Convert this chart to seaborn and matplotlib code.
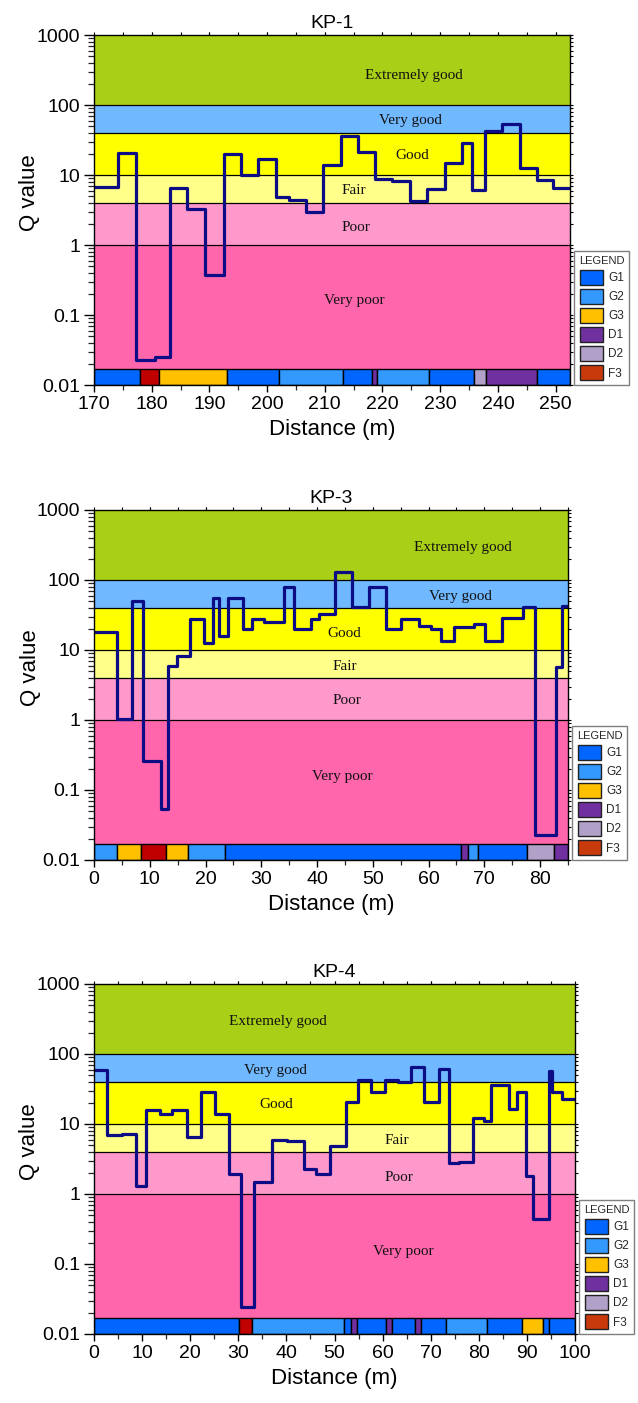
import matplotlib
matplotlib.use("Agg")
import matplotlib.pyplot as plt
from matplotlib.patches import Patch
from matplotlib.ticker import FixedLocator, NullFormatter
import seaborn as sns
import numpy as np

# ---- Q-value profiles (segment edges in m, Q value per segment) ----
kp1_edges = [170, 174.1, 177.2, 180.6, 183.2, 186.2, 189.3, 192.5, 195.5, 198.5,
             201.5, 203.8, 206.7, 209.7, 212.8, 215.7, 218.7, 221.7, 224.7, 227.7,
             230.8, 233.7, 235.6, 237.7, 240.8, 243.8, 246.7, 249.6, 252.5]
kp1_q = [6.8, 20.4, 0.023, 0.025, 6.6, 3.3, 0.37, 20, 9.9, 17,
         4.9, 4.4, 3.0, 13.9, 36, 21.5, 8.8, 8.1, 4.2, 6.3,
         14.7, 28.3, 6.2, 43, 53, 12.6, 8.5, 6.6]

kp3_edges = [0, 4.2, 6.9, 8.8, 12.1, 13.3, 14.9, 17.3, 19.7, 21.3,
             22.4, 24.0, 26.7, 28.4, 30.5, 34.0, 35.9, 38.9, 40.4, 43.2,
             46.2, 49.3, 52.3, 55.1, 58.3, 60.4, 62.3, 64.5, 68.2, 70.2,
             73.2, 77.0, 79.0, 82.9, 83.9, 85]
kp3_q = [18.3, 1.02, 50.7, 0.26, 0.053, 5.9, 8.2, 27.4, 12.7, 56,
         16, 54.7, 19.7, 27.4, 25.4, 78.5, 20, 27.7, 32.7, 129,
         41.6, 80, 19.7, 27.4, 22, 19.7, 13.4, 21.1, 23.3, 13.6,
         29, 40.7, 0.023, 5.8, 42.5]

kp4_edges = [0, 2.6, 5.8, 8.7, 10.8, 13.7, 16.2, 19.3, 22.2, 25.2,
             28.1, 30.6, 33.3, 37.1, 40.2, 43.6, 46.2, 49.0, 52.4, 54.9,
             57.5, 60.4, 63.1, 66.0, 68.7, 71.8, 73.9, 75.8, 78.7, 81.0,
             82.6, 86.2, 88.0, 89.8, 91.2, 94.5, 95.2, 97.2, 100]
kp4_q = [60, 7.0, 7.1, 1.32, 15.8, 13.9, 15.6, 6.5, 28.6, 13.7,
         1.91, 0.024, 1.5, 5.97, 5.8, 2.28, 1.9, 4.85, 20.4, 42.5,
         29, 42.5, 39.8, 66, 20.6, 61.7, 2.74, 2.9, 12, 11.2,
         36, 16.6, 29, 1.8, 0.44, 57, 29, 22.5]

# ---- geological units along each profile ----
kp1_unit_edges = [170, 177.9, 181.3, 193.0, 202.0, 213.1, 218.1, 219.0, 228.0,
                  235.9, 237.9, 246.8, 252.5]
kp1_units = ['G1', 'F3', 'G3', 'G1', 'G2', 'G1', 'D1', 'G2', 'G1', 'D2', 'D1', 'G1']

kp3_unit_edges = [0, 4.1, 8.5, 13.0, 16.9, 23.5, 65.9, 67.0, 68.9, 77.6, 82.4, 85]
kp3_units = ['G2', 'G3', 'F3', 'G3', 'G2', 'G1', 'D1', 'G2', 'G1', 'D2', 'D1']

kp4_unit_edges = [0, 30.2, 32.9, 51.9, 53.5, 54.7, 60.8, 62.0, 66.8, 68.0,
                  73.2, 81.7, 88.9, 93.4, 94.5, 100]
kp4_units = ['G1', 'F3', 'G2', 'G1', 'D1', 'G1', 'D1', 'G1', 'D1', 'G1',
             'G2', 'G1', 'G3', 'G1', 'G1']

# ---- rock mass quality classes ----
class_names = ['Extremely good', 'Very good', 'Good', 'Fair', 'Poor', 'Very poor']
class_bounds = [1000, 100, 40, 10, 4, 1, 0.01]
class_colors = ['#a9d016', '#70b8ff', '#ffff00', '#ffff8a', '#ff99cc', '#ff66ab']

unit_names = ['G1', 'G2', 'G3', 'D1', 'D2', 'F3']
unit_colors = {'G1': '#0066ff', 'G2': '#3399ff', 'G3': '#ffc000',
               'D1': '#7030a0', 'D2': '#b1a0c7', 'F3': '#c00000'}
legend_colors = {'G1': '#0066ff', 'G2': '#3399ff', 'G3': '#ffc000',
                 'D1': '#7030a0', 'D2': '#b1a0c7', 'F3': '#c83a0c'}

strip_top = 0.0169

sns.set_theme(style="ticks")
plt.rcParams['font.family'] = ['Liberation Sans', 'DejaVu Sans']

panels = [
    dict(title='KP-1', edges=kp1_edges, q=kp1_q, uedges=kp1_unit_edges, units=kp1_units,
         xlim=(170, 252.5), xmajor=np.arange(170, 251, 10), xminor=np.arange(175, 252, 5),
         rect=[94/638, 1-385/1403, 476/638, 350/1403],
         text_pos={'Extremely good': (225.4, 268), 'Very good': (224.9, 61), 'Good': (225.2, 19.3),
                   'Fair': (215.0, 6.0), 'Poor': (215.4, 1.8), 'Very poor': (215.2, 0.16)}),
    dict(title='KP-3', edges=kp3_edges, q=kp3_q, uedges=kp3_unit_edges, units=kp3_units,
         xlim=(0, 85), xmajor=np.arange(0, 81, 10), xminor=np.arange(5, 86, 5),
         rect=[94/638, 1-860/1403, 474/638, 350/1403],
         text_pos={'Extremely good': (66.1, 287), 'Very good': (65.8, 59), 'Good': (44.8, 17.3),
                   'Fair': (44.9, 5.9), 'Poor': (45.3, 1.89), 'Very poor': (44.6, 0.155)}),
    dict(title='KP-4', edges=kp4_edges, q=kp4_q, uedges=kp4_unit_edges, units=kp4_units,
         xlim=(0, 100), xmajor=np.arange(0, 101, 10), xminor=np.arange(5, 100, 5),
         rect=[94/638, 1-1334/1403, 481/638, 350/1403],
         text_pos={'Extremely good': (38.2, 287), 'Very good': (37.8, 59), 'Good': (37.8, 18.7),
                   'Fair': (63.0, 5.9), 'Poor': (63.3, 1.73), 'Very poor': (64.3, 0.15)}),
]

fig = plt.figure(figsize=(6.38, 14.03), dpi=100)
fig.patch.set_facecolor('white')

ymajor = [0.01, 0.1, 1, 10, 100, 1000]
ylabels = ['0.01', '0.1', '1', '10', '100', '1000']
yminor = [m * 10.0**e for e in range(-2, 3) for m in range(2, 10)]

for p in panels:
    ax = fig.add_axes(p['rect'])
    ax.set_yscale('log')
    ax.set_xlim(*p['xlim'])
    ax.set_ylim(0.01, 1000)
    axw_px = p['rect'][2] * 638

    # quality class bands
    for name, top, bot, col in zip(class_names, class_bounds[:-1], class_bounds[1:], class_colors):
        ax.axhspan(bot, top, color=col, lw=0, zorder=0)
        tx, ty = p['text_pos'][name]
        ax.text(tx, ty, name, ha='center', va='center', fontsize=11,
                family=['Liberation Serif', 'DejaVu Serif'], color='#111111', zorder=1)
    for b in class_bounds[1:-1]:
        ax.axhline(b, color='black', lw=0.9, zorder=1)

    # geological unit strip along the bottom
    ue = np.array(p['uedges'])
    ax.barh(y=0.01, width=np.diff(ue), left=ue[:-1], height=strip_top - 0.01, align='edge',
            color=[unit_colors[u] for u in p['units']], edgecolor='black', linewidth=1.0,
            zorder=2)

    # Q value profile
    x = p['edges']
    y = list(p['q']) + [p['q'][-1]]
    sns.lineplot(x=x, y=y, drawstyle='steps-post', estimator=None, sort=False,
                 color='#0c0c84', lw=2.3, ax=ax, zorder=3)

    ax.set_yticks(ymajor)
    ax.set_yticklabels(ylabels)
    ax.yaxis.set_minor_locator(FixedLocator(yminor))
    ax.yaxis.set_minor_formatter(NullFormatter())
    ax.set_xticks(p['xmajor'])
    ax.set_xticklabels([str(int(v)) for v in p['xmajor']])
    ax.xaxis.set_minor_locator(FixedLocator(p['xminor']))

    ax.tick_params(axis='both', which='major', direction='out', labelsize=14,
                   color='black', labelcolor='black', width=1.0, pad=3)
    ax.tick_params(axis='y', which='major', length=7)
    ax.tick_params(axis='y', which='minor', length=4, width=0.9, direction='out', left=True)
    ax.tick_params(axis='x', which='major', length=5)
    ax.tick_params(axis='x', which='minor', length=3.5, width=0.9, direction='out', bottom=True)

    # short ticks on the top and right frame
    sx = ax.secondary_xaxis('top')
    sx.set_xticks(list(p['xmajor']) + list(p['xminor']))
    sx.tick_params(length=2, width=0.8, labeltop=False, direction='out', color='black')
    sy = ax.secondary_yaxis('right')
    sy.set_yticks(ymajor)
    sy.yaxis.set_minor_locator(FixedLocator(yminor))
    sy.yaxis.set_minor_formatter(NullFormatter())
    sy.tick_params(which='both', length=2, width=0.8, labelright=False, direction='out', color='black')
    for s in list(sx.spines.values()) + list(sy.spines.values()):
        s.set_visible(False)

    for s in ax.spines.values():
        s.set_color('black')
        s.set_linewidth(1.0)
        s.set_zorder(5)

    ax.set_title(p['title'], fontsize=14, pad=5, color='black')
    ax.set_xlabel('Distance (m)', fontsize=16, color='black', labelpad=4)
    ax.set_ylabel('Q value', fontsize=16, color='black', va='center')
    ax.yaxis.set_label_coords(-64 / axw_px, 0.55)
    ax.grid(False)

    handles = [Patch(facecolor=legend_colors[u], edgecolor='#222222', linewidth=1.0, label=u)
               for u in unit_names]
    leg = ax.legend(handles=handles, title='LEGEND', loc='lower left',
                    bbox_to_anchor=(1 + 4 / axw_px, 0), borderaxespad=0,
                    fontsize=8.5, title_fontsize=8, handlelength=1.95, handleheight=1.55,
                    handletextpad=0.45, labelspacing=0.36, borderpad=0.42,
                    frameon=True, fancybox=False, framealpha=1)
    leg.get_frame().set_edgecolor('#7f7f7f')
    leg.get_frame().set_linewidth(1.0)

fig.savefig('out.png', dpi=100, facecolor='white')
